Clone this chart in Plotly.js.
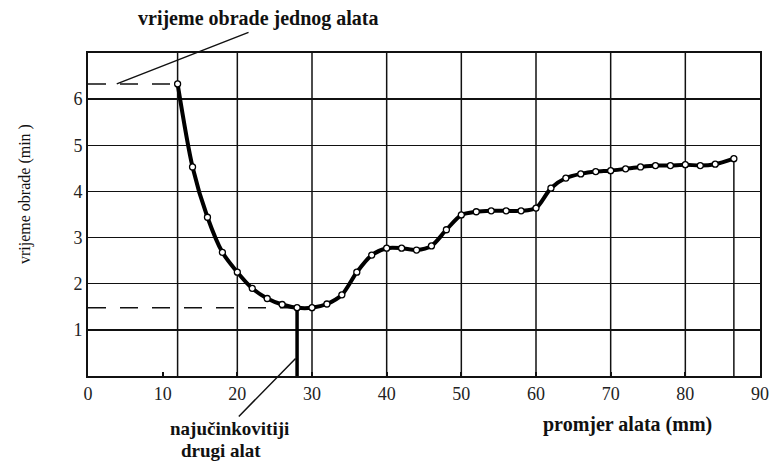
<!DOCTYPE html>
<html>
<head>
<meta charset="utf-8">
<script src="https://cdn.plot.ly/plotly-3.0.1.min.js"></script>
<style>html,body{margin:0;padding:0;background:#fff;}#chart{width:774px;height:462px;}</style>
</head>
<body>
<div id="chart"></div>
<script>
// Data
const toolDiameter = [12,14,16,18,20,22,24,26,28,30,32,34,36,38,40,42,44,46,48,50,52,54,56,58,60,62,64,66,68,70,72,74,76,78,80,82,84,86.5];
const machiningTime = [6.33,4.53,3.44,2.68,2.25,1.90,1.68,1.55,1.48,1.48,1.56,1.76,2.25,2.62,2.77,2.77,2.73,2.82,3.17,3.49,3.56,3.58,3.58,3.58,3.64,4.07,4.29,4.38,4.43,4.45,4.49,4.53,4.56,4.56,4.58,4.56,4.59,4.71];
const xTickVals = [0,10,20,30,40,50,60,70,80,90];
const yTickVals = [1,2,3,4,5,6];
const xGridLines = [12,20,30,40,50,60,70,80];
const labelSingleTool = 'vrijeme obrade jednog alata';
const labelBestSecond = ['najučinkovitiji','drugi alat'];
const xTitle = 'promjer alata (mm)';
const yTitle = 'vrijeme obrade (min )';

const font = "'Liberation Serif', 'Times New Roman', Times, serif";
const n = toolDiameter.length;
let iMin = 0;
machiningTime.forEach((v,i)=>{ if (v < machiningTime[iMin]) iMin = i; });
const x0 = toolDiameter[0], y0 = machiningTime[0];
const xm = toolDiameter[iMin], ym = machiningTime[iMin];
const xl = toolDiameter[n-1], yl = machiningTime[n-1];

const traces = [
  {x:[0,x0], y:[y0,y0], mode:'lines', line:{color:'#111', width:1.5, dash:'18px,14px'}, hoverinfo:'skip'},
  {x:[0,xm], y:[ym,ym], mode:'lines', line:{color:'#111', width:1.5, dash:'18px,14px'}, hoverinfo:'skip'},
  {x:[xm,xm], y:[0,ym], mode:'lines', line:{color:'#000', width:3.5}, hoverinfo:'skip'},
  {x:[xl,xl], y:[0,yl], mode:'lines', line:{color:'#111', width:1.5}, hoverinfo:'skip'},
  {x:toolDiameter, y:machiningTime, mode:'lines+markers',
   line:{color:'#000', width:4, shape:'spline', smoothing:0.8},
   marker:{symbol:'circle', size:6, color:'#fff', line:{color:'#000', width:1.3}}}
];

const shapes = xGridLines.map(g => ({type:'line', xref:'x', yref:'paper', x0:g, x1:g, y0:0, y1:1,
  line:{color:'#111', width:1.5}, layer:'below'}));

const layout = {
  width:774, height:462,
  margin:{l:88, r:14, t:53, b:86},
  paper_bgcolor:'#fff', plot_bgcolor:'#fff',
  showlegend:false,
  font:{family:font, color:'#111', size:17},
  xaxis:{range:[0,90], tickvals:xTickVals, showgrid:false, zeroline:false,
    showline:true, mirror:true, linecolor:'#111', linewidth:2,
    ticks:'inside', ticklen:4, tickwidth:2, tickcolor:'#111',
    tickfont:{family:font, size:18, color:'#222'}},
  yaxis:{range:[0,7], tickvals:yTickVals, showgrid:true, gridcolor:'#111', gridwidth:1.5,
    zeroline:false, showline:true, mirror:true, linecolor:'#111', linewidth:2, ticks:'',
    tickfont:{family:font, size:18, color:'#222'}},
  shapes: shapes,
  annotations:[
    {x:3.85, y:y0, xref:'x', yref:'y', ax:21.7, ay:7.46, axref:'x', ayref:'y', text:'',
     showarrow:true, arrowhead:0, arrowwidth:1.5, arrowcolor:'#111'},
    {x:27.8, y:0.38, xref:'x', yref:'y', ax:20.0, ay:-0.91, axref:'x', ayref:'y', text:'',
     showarrow:true, arrowhead:0, arrowwidth:1.5, arrowcolor:'#111'},
    {x:258, y:19, text:'<b>'+labelSingleTool+'</b>', showarrow:false,
     font:{family:font, size:20, color:'#111'}},
    {x:229, y:428, text:'<b>'+labelBestSecond[0]+'</b>', showarrow:false, font:{family:font, size:19, color:'#111'}},
    {x:221, y:450, text:'<b>'+labelBestSecond[1]+'</b>', showarrow:false, font:{family:font, size:19, color:'#111'}},
    {x:627, y:424, text:'<b>'+xTitle+'</b>', showarrow:false, font:{family:font, size:20, color:'#111'}},
    {x:25, y:194, text:yTitle, textangle:-90, showarrow:false, font:{family:font, size:16, color:'#111'}}
  ]
};
const pw = 774 - 88 - 14, ph = 462 - 53 - 86;
layout.annotations.forEach((a,i)=>{
  if (i >= 2) {
    a.xref = 'paper'; a.yref = 'paper';
    a.x = (a.x - 88) / pw; a.y = (462 - 86 - a.y) / ph;
    a.xanchor = 'center'; a.yanchor = 'middle';
  }
});
Plotly.newPlot('chart', traces, layout, {staticPlot:true, displayModeBar:false});
</script>
</body>
</html>
